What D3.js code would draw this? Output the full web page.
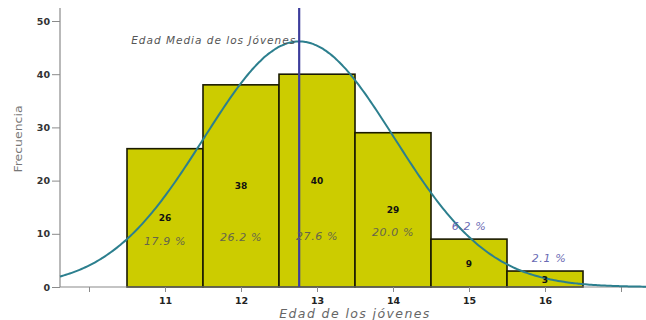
<!DOCTYPE html>
<html><head><meta charset="utf-8">
<script src="https://cdn.jsdelivr.net/npm/d3@7"></script>
<style>body{margin:0;background:#fff}svg{display:block}</style>
</head><body>
<svg id="c" width="646" height="320"></svg>
<script>
const ages = [11, 12, 13, 14, 15, 16];
const counts = [26, 38, 40, 29, 9, 3];
const pctLabels = ["17.9 %", "26.2 %", "27.6 %", "20.0 %", "6.2 %", "2.1 %"];
const yTicks = [0, 10, 20, 30, 40, 50];
const xTicks = [10, 11, 12, 13, 14, 15, 16, 17];
const xTickLabels = ["", "11", "12", "13", "14", "15", "16", ""];
const meanLabel = "Edad Media de los Jóvenes";
const xTitle = "Edad de los jóvenes";
const yTitle = "Frecuencia";

const FONT = "Verdana, DejaVu Sans, sans-serif";
const svg = d3.select("#c");
const x = d3.scaleLinear().domain([10, 17]).range([89, 621]);
const y = d3.scaleLinear().domain([0, 50]).range([287, 21]);
const x0 = x.invert(60), x1 = x.invert(646);

// statistics from data
const N = d3.sum(counts);
const mean = d3.sum(ages.map((a,i)=>a*counts[i]))/N;
const variance = d3.sum(ages.map((a,i)=>counts[i]*(a-mean)**2))/(N-1);
const sd = Math.sqrt(variance);

// bars
svg.selectAll("rect.bar").data(ages).join("rect")
  .attr("x", d => x(d-0.5)).attr("width", d => x(d+0.5)-x(d-0.5))
  .attr("y", (d,i) => y(counts[i])).attr("height", (d,i) => y(0)-y(counts[i]))
  .attr("fill", "#cccc00").attr("stroke", "#1a1a00").attr("stroke-width", 1.6);

// axes
const gy = svg.append("g").attr("transform", `translate(60,0)`)
  .call(d3.axisLeft(y).tickValues(yTicks).tickSize(8).tickPadding(2));
gy.select(".domain").attr("d", `M0,${y(0)}V8`).attr("stroke", "#8a8a8a").attr("stroke-width", 1.2);
gy.selectAll(".tick line").attr("stroke", "#8a8a8a");
gy.selectAll(".tick text").attr("font-family", FONT)
  .attr("font-size", 9.5).attr("font-weight", "bold").attr("fill", "#333");

const gx = svg.append("g").attr("transform", `translate(0,${y(0)})`)
  .call(d3.axisBottom(x).tickValues(xTicks).tickFormat((d,i)=>xTickLabels[i]).tickSize(5).tickPadding(5));
gx.select(".domain").attr("d", `M60,0H646`).attr("stroke", "#8a8a8a").attr("stroke-width", 1.2);
gx.selectAll(".tick line").attr("stroke", "#8a8a8a");
gx.selectAll(".tick text").attr("font-family", FONT)
  .attr("font-size", 9.5).attr("font-weight", "bold").attr("fill", "#222");

// normal curve from data mean/sd
const pts = d3.range(0, 301).map(k => {
  const xv = x0 + (x1-x0)*k/300;
  const yv = N/(sd*Math.sqrt(2*Math.PI))*Math.exp(-0.5*((xv-mean)/sd)**2);
  return [xv, yv];
});
svg.append("path").datum(pts)
  .attr("d", d3.line().x(d=>x(d[0])).y(d=>y(d[1])).curve(d3.curveBasis))
  .attr("fill", "none").attr("stroke", "#2c7f8e").attr("stroke-width", 2);

// mean line
svg.append("line").attr("x1", x(mean)).attr("x2", x(mean)).attr("y1", 8).attr("y2", y(0))
  .attr("stroke", "#3d3d9c").attr("stroke-width", 2.2);
svg.append("text").attr("x", x(mean)-3).attr("y", 44).attr("text-anchor", "end")
  .attr("font-family", FONT).attr("font-style", "italic").attr("letter-spacing", 1)
  .attr("font-size", 10.5).attr("fill", "#555").text(meanLabel);

// count labels: centred at half bar height
svg.selectAll("text.cnt").data(ages).join("text")
  .attr("x", d => x(d)).attr("y", (d,i) => y(counts[i]/2) + 3.5)
  .attr("text-anchor", "middle").attr("font-family", FONT)
  .attr("font-weight", "bold").attr("font-size", 9).attr("fill", "#111")
  .text((d,i) => counts[i]);

// percent labels
const pctDy = [245, 241, 240, 236, 230, 262];
const pctDx = [0, 0, 0, 0, 0, 4];
svg.selectAll("text.pct").data(ages).join("text")
  .attr("x", (d,i) => x(d) + pctDx[i])
  .attr("y", (d,i) => pctDy[i])
  .attr("text-anchor", "middle").attr("font-family", FONT)
  .attr("font-style", "italic").attr("font-size", 11).attr("letter-spacing", 0.6)
  .attr("fill", (d,i) => i<4 ? "#66664a" : "#6a6ab4")
  .text((d,i) => pctLabels[i]);

// axis titles
svg.append("text").attr("x", 355).attr("y", 318).attr("text-anchor", "middle")
  .attr("font-family", FONT).attr("font-style", "italic").attr("letter-spacing", 1.4)
  .attr("font-size", 12.5).attr("fill", "#666").text(xTitle);
svg.append("text").attr("transform", "translate(22,139) rotate(-90) scale(1,0.8)")
  .attr("text-anchor", "middle").attr("font-family", FONT)
  .attr("font-size", 12.5).attr("fill", "#777").text(yTitle);
</script>
</body></html>
